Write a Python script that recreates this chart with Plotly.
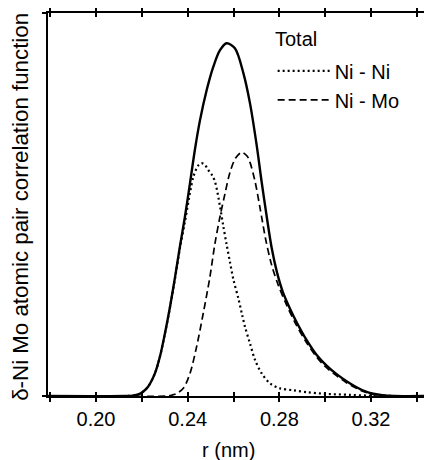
import plotly.graph_objects as go

# ---- data ----
r_total = [0.1790, 0.2130, 0.2160, 0.2185, 0.2205, 0.2228, 0.2257, 0.2279, 0.2301, 0.2323,
           0.2345, 0.2366, 0.2388, 0.2410, 0.2432, 0.2454, 0.2483, 0.2512, 0.2541, 0.2570,
           0.2606, 0.2643, 0.2672, 0.2701, 0.2723, 0.2745, 0.2767, 0.2790, 0.2815, 0.2845,
           0.2876, 0.2920, 0.2963, 0.3005, 0.3050, 0.3095, 0.3137, 0.3175, 0.3210, 0.3250,
           0.3300, 0.3470]
g_total = [0.0, 0.0, 0.001, 0.004, 0.011, 0.025, 0.059, 0.103, 0.164, 0.233,
           0.311, 0.390, 0.468, 0.555, 0.645, 0.721, 0.799, 0.860, 0.903, 0.921,
           0.908, 0.843, 0.764, 0.655, 0.558, 0.468, 0.385, 0.322, 0.272, 0.230,
           0.192, 0.145, 0.107, 0.080, 0.057, 0.038, 0.023, 0.012, 0.006, 0.002,
           0.0, 0.0]

r_nini = [0.1790, 0.2130, 0.2160, 0.2185, 0.2205, 0.2228, 0.2257, 0.2279, 0.2301, 0.2323,
          0.2345, 0.2366, 0.2388, 0.2410, 0.2425, 0.2446, 0.2461, 0.2476, 0.2490, 0.2505,
          0.2519, 0.2541, 0.2555, 0.2570, 0.2585, 0.2600, 0.2621, 0.2636, 0.2650, 0.2672,
          0.2694, 0.2723, 0.2759, 0.2803, 0.2861, 0.2920, 0.2992, 0.3108, 0.3195, 0.3300,
          0.3470]
g_nini = [0.0, 0.0, 0.001, 0.004, 0.011, 0.025, 0.059, 0.103, 0.164, 0.232,
          0.308, 0.385, 0.455, 0.530, 0.573, 0.602, 0.608, 0.603, 0.590, 0.578,
          0.560, 0.495, 0.445, 0.395, 0.348, 0.303, 0.255, 0.216, 0.181, 0.137,
          0.094, 0.059, 0.033, 0.020, 0.015, 0.010, 0.006, 0.003, 0.001, 0.0,
          0.0]

r_nimo = [0.1790, 0.2310, 0.2330, 0.2350, 0.2381, 0.2410, 0.2439, 0.2468, 0.2497, 0.2519,
          0.2541, 0.2563, 0.2585, 0.2610, 0.2636, 0.2660, 0.2672, 0.2694, 0.2716, 0.2740,
          0.2765, 0.2795, 0.2830, 0.2870, 0.2915, 0.2960, 0.3000, 0.3045, 0.3090, 0.3130,
          0.3170, 0.3205, 0.3250, 0.3300, 0.3470]
g_nimo = [0.0, 0.0, 0.002, 0.006, 0.020, 0.059, 0.129, 0.216, 0.311, 0.398,
          0.468, 0.529, 0.585, 0.622, 0.636, 0.626, 0.610, 0.560, 0.490, 0.410,
          0.345, 0.290, 0.240, 0.190, 0.143, 0.104, 0.077, 0.055, 0.036, 0.022,
          0.011, 0.005, 0.001, 0.0, 0.0]

x_tickvals = [0.20, 0.24, 0.28, 0.32]
x_ticktext = ["0.20", "0.24", "0.28", "0.32"]

FONT = "Liberation Sans"
X_RANGE = [0.17905, 0.34661]

fig = go.Figure()
fig.add_trace(go.Scatter(x=r_total, y=g_total, mode="lines", name="Total",
                         line=dict(color="black", width=2.4, shape="spline", smoothing=0.9),
                         showlegend=False))
fig.add_trace(go.Scatter(x=r_nini, y=g_nini, mode="lines", name="Ni - Ni",
                         line=dict(color="black", width=2.2, dash="2px,3px", shape="spline", smoothing=0.9)))
fig.add_trace(go.Scatter(x=r_nimo, y=g_nimo, mode="lines", name="Ni - Mo",
                         line=dict(color="black", width=1.7, dash="7px,4px", shape="spline", smoothing=0.9)))

# page body has an 8px margin: figure is 424x452 so it ends at the window's edges
fig.update_layout(
    width=424, height=452,
    margin=dict(l=40, r=0, t=5, b=64, pad=0),
    paper_bgcolor="white", plot_bgcolor="white",
    font=dict(family=FONT, size=20, color="black"),
    legend=dict(x=0.585, y=0.90, xanchor="left", yanchor="top", itemwidth=52,
                bgcolor="rgba(0,0,0,0)", font=dict(size=20), tracegroupgap=0),
    xaxis=dict(range=X_RANGE, tickvals=x_tickvals, ticktext=x_ticktext,
               ticks="outside", ticklen=4, tickwidth=1.5, tickcolor="black",
               minor=dict(dtick=0.02, tick0=0.20, ticks="outside", ticklen=4, tickwidth=1.5, tickcolor="black"),
               showline=True, linewidth=2, linecolor="black", mirror="ticks",
               showgrid=False, zeroline=False, ticklabelstandoff=0,
               tickfont=dict(size=20)),
    xaxis2=dict(range=X_RANGE, overlaying="x", tickvals=x_tickvals, showticklabels=False,
                ticks="inside", ticklen=4, tickwidth=1.5, tickcolor="black",
                minor=dict(dtick=0.02, tick0=0.20, ticks="inside", ticklen=4, tickwidth=1.5, tickcolor="black"),
                showline=False, mirror="ticks", showgrid=False, zeroline=False),
    yaxis=dict(range=[0, 1], tickvals=[0, 1], showticklabels=False,
               ticks="outside", ticklen=4, tickwidth=1.5, tickcolor="black",
               showline=True, linewidth=2, linecolor="black", mirror=False,
               showgrid=False, zeroline=False),
)
fig.add_trace(go.Scatter(x=[X_RANGE[0]], y=[0], xaxis="x2", mode="markers",
                         marker=dict(opacity=0), showlegend=False, hoverinfo="skip"))

fig.add_annotation(text="Total", xref="paper", yref="paper", x=0.586, y=0.932,
                   xanchor="left", yanchor="middle", showarrow=False, font=dict(size=20))
fig.add_annotation(text="δ-Ni Mo atomic pair correlation function", xref="paper", yref="paper",
                   x=-0.0703, y=0.494, xanchor="center", yanchor="middle", textangle=-90,
                   showarrow=False, font=dict(size=22.3))
fig.add_annotation(text="r (nm)", xref="paper", yref="paper", x=0.471, y=-0.141,
                   xanchor="center", yanchor="middle", showarrow=False, font=dict(size=20))

fig.write_html("out.html")
